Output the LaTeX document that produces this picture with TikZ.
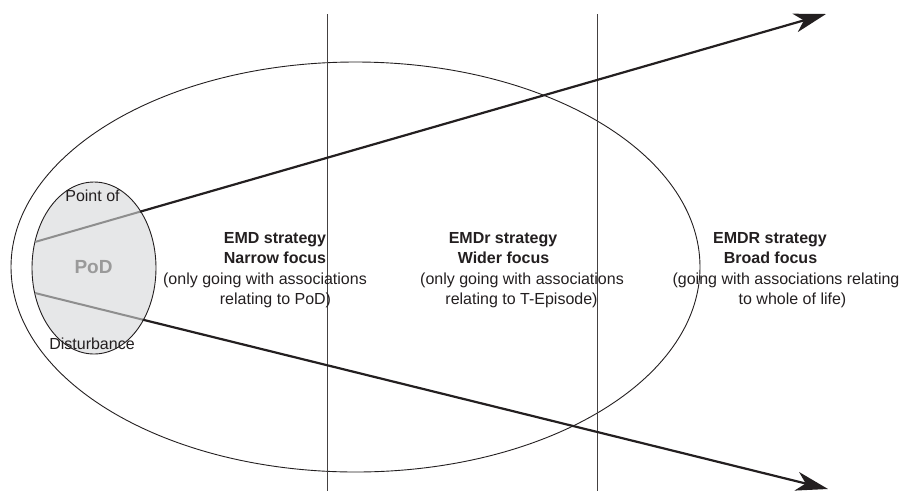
\documentclass[tikz,border=0pt]{standalone}
\usepackage{fontspec}
\setmainfont{Liberation Sans}
\usetikzlibrary{shapes.geometric,arrows.meta}
\definecolor{podfill}{HTML}{E6E7E8}
\definecolor{podtext}{HTML}{9A9A9A}
\definecolor{grayline}{HTML}{8E8E8E}
\definecolor{ink}{HTML}{231F20}
\begin{document}
\begin{tikzpicture}[x=1pt,y=-1pt,
  oval/.style={ellipse,draw=ink,line width=0.9pt,inner sep=0pt,outer sep=0pt},
  divider/.style={draw=ink!85,line width=1.2pt},
  grayseg/.style={draw=grayline,line width=2pt},
  bigarrow/.style={draw=ink,line width=2.2pt,-{Stealth[length=32pt,width=19pt,inset=9pt]}},
  txt/.style={anchor=base,inner sep=0pt,text=ink,font=\fontsize{16}{20}\selectfont},
  btxt/.style={txt,font=\fontsize{16}{20}\selectfont\bfseries}]
\useasboundingbox (0,0) rectangle (907,491);
% big ellipse
\node[oval,minimum width=689pt,minimum height=410pt] (big) at (355.5,267) {};
% dividers
\coordinate (d1t) at (327.5,14);
\coordinate (d1b) at (327.5,491);
\coordinate (d2t) at (597.7,14);
\coordinate (d2b) at (597.7,491);
\draw[divider] (d1t) -- (d1b);
\draw[divider] (d2t) -- (d2b);
% PoD ellipse
\node[oval,fill=podfill,minimum width=124pt,minimum height=172pt] (pod) at (94,268) {};
% arrows
\coordinate (a1s) at (34.9,242);
\coordinate (a1m) at (140,211.7);
\coordinate (a1e) at (826,14);
\coordinate (a2s) at (34.9,293);
\coordinate (a2m) at (142.5,319.6);
\coordinate (a2e) at (828,489);
\draw[grayseg] (a1s) -- (a1m);
\draw[grayseg] (a2s) -- (a2m);
\draw[bigarrow] (a1m) -- (a1e);
\draw[bigarrow] (a2m) -- (a2e);
% PoD texts
\node[txt] (pt1) at (92.5,201.5) {Point of};
\node[txt] (pt2) at (92,349.5) {Disturbance};
\node[anchor=base,inner sep=0pt,text=podtext,font=\fontsize{19}{22}\selectfont\bfseries] (podl) at (93.5,273) {PoD};
% EMD block
\node[btxt] (e1) at (275,243.5) {EMD strategy};
\node[btxt] (e2) at (275,263.8) {Narrow focus};
\node[txt] (e3) at (265,284.1) {(only going with associations};
\node[txt] (e4) at (275.5,304.4) {relating to PoD)};
% EMDr block
\node[btxt] (r1) at (503,243.5) {EMDr strategy};
\node[btxt] (r2) at (503.5,263.8) {Wider focus};
\node[txt] (r3) at (522,284.1) {(only going with associations};
\node[txt] (r4) at (521.5,304.4) {relating to T-Episode)};
% EMDR block
\node[btxt] (R1) at (770,243.5) {EMDR strategy};
\node[btxt] (R2) at (770.5,263.8) {Broad focus};
\node[txt] (R3) at (786,284.1) {(going with associations relating};
\node[txt] (R4) at (792.5,304.4) {to whole of life)};
\end{tikzpicture}
\end{document}
